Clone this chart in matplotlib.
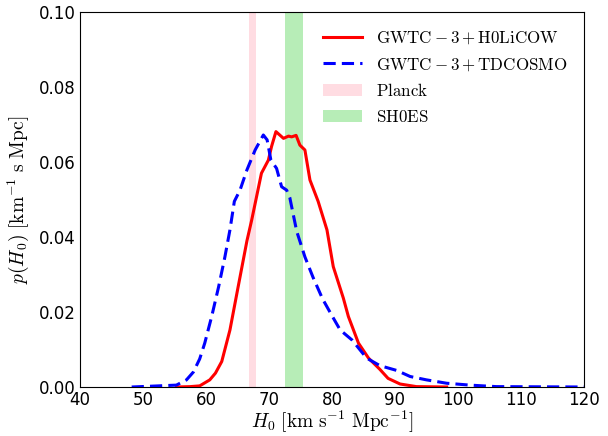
import numpy as np
import matplotlib
matplotlib.use('Agg')
import matplotlib.pyplot as plt

plt.rcParams['mathtext.fontset'] = 'cm'

# H0 posterior, GWTC-3 + H0LiCOW
h0_licow = [55.3, 57.5, 59.0, 60.6, 61.5, 62.5, 63.8, 65.1, 66.5, 67.25, 68.8, 69.9, 70.4,
            71.1, 72.3, 73.1, 73.6, 74.3, 74.9, 75.7, 76.5, 77.8, 79.2, 80.2, 81.8, 82.6,
            84.2, 85.8, 87.6, 88.9, 90.8, 93.4, 98.2]
p_licow = [0.0, 0.0001, 0.0003, 0.0019, 0.0037, 0.0068, 0.0152, 0.0267, 0.039, 0.0445, 0.057,
           0.0605, 0.0641, 0.0681, 0.0663, 0.0669, 0.0667, 0.0671, 0.0645, 0.0632, 0.0552,
           0.0495, 0.0419, 0.0321, 0.0237, 0.0188, 0.0117, 0.0077, 0.0047, 0.0023, 0.0008,
           0.0001, 0.0]

# H0 posterior, GWTC-3 + TDCOSMO
h0_tdcosmo = [48.2, 51.1, 55.3, 56.9, 58.0, 59.0, 59.8, 60.9, 62.0, 63.0, 63.8, 64.5, 65.4,
              66.5, 67.8, 69.1, 69.7, 70.3, 71.2, 72.0, 72.8, 73.3, 74.4, 75.7, 77.0, 78.5,
              80.0, 81.3, 83.2, 85.5, 87.6, 90.3, 92.4, 95.0, 98.2, 101.9, 106.1, 120.0]
p_tdcosmo = [0.0, 0.0002, 0.0005, 0.0019, 0.004, 0.0075, 0.0117, 0.0188, 0.0267, 0.0347,
             0.0419, 0.0495, 0.0525, 0.0579, 0.0632, 0.0672, 0.0659, 0.0605, 0.0583, 0.0534,
             0.0525, 0.0505, 0.0415, 0.0347, 0.0292, 0.0235, 0.019, 0.0152, 0.0125, 0.0077,
             0.0057, 0.0044, 0.0028, 0.0019, 0.001, 0.0005, 0.0001, 0.0]

# external measurements (mean, sigma)
planck = (67.4, 0.5)
shoes = (74.03, 1.42)

fig = plt.figure(figsize=(6.08, 4.36), dpi=100)
ax = fig.add_axes([0.1316, 0.1124, 0.8289, 0.8601])

ax.plot(h0_licow, p_licow, color='red', lw=2.2, label=r'$\mathrm{GWTC-3+H0LiCOW}$', zorder=3)
ax.plot(h0_tdcosmo, p_tdcosmo, color='blue', lw=2.2, ls='--', dashes=(4, 2),
        label=r'$\mathrm{GWTC-3+TDCOSMO}$', zorder=3)
ax.axvspan(planck[0] - planck[1], planck[0] + planck[1], color='pink', alpha=0.55,
           lw=0, label=r'$\mathrm{Planck}$')
ax.axvspan(shoes[0] - shoes[1], shoes[0] + shoes[1], color='limegreen', alpha=0.35,
           lw=0, label=r'$\mathrm{SH0ES}$')

ax.set_xlim(40, 120)
ax.set_ylim(0, 0.1)
ax.set_xticks(np.arange(40, 121, 10))
ax.set_yticks(np.arange(0, 0.101, 0.02))
ax.tick_params(length=0, labelsize=12, pad=3)

ax.set_xlabel(r'$H_0\ [\mathrm{km\ s^{-1}\ Mpc^{-1}}]$', fontsize=14, labelpad=0)
ax.set_ylabel(r'$p(H_0)\ [\mathrm{km^{-1}\ s\ Mpc}]$', fontsize=14, labelpad=6)

ax.legend(loc='upper right', frameon=False, fontsize=12.2, handlelength=2.3,
          borderaxespad=0.6)

fig.savefig('out.png', dpi=100)
